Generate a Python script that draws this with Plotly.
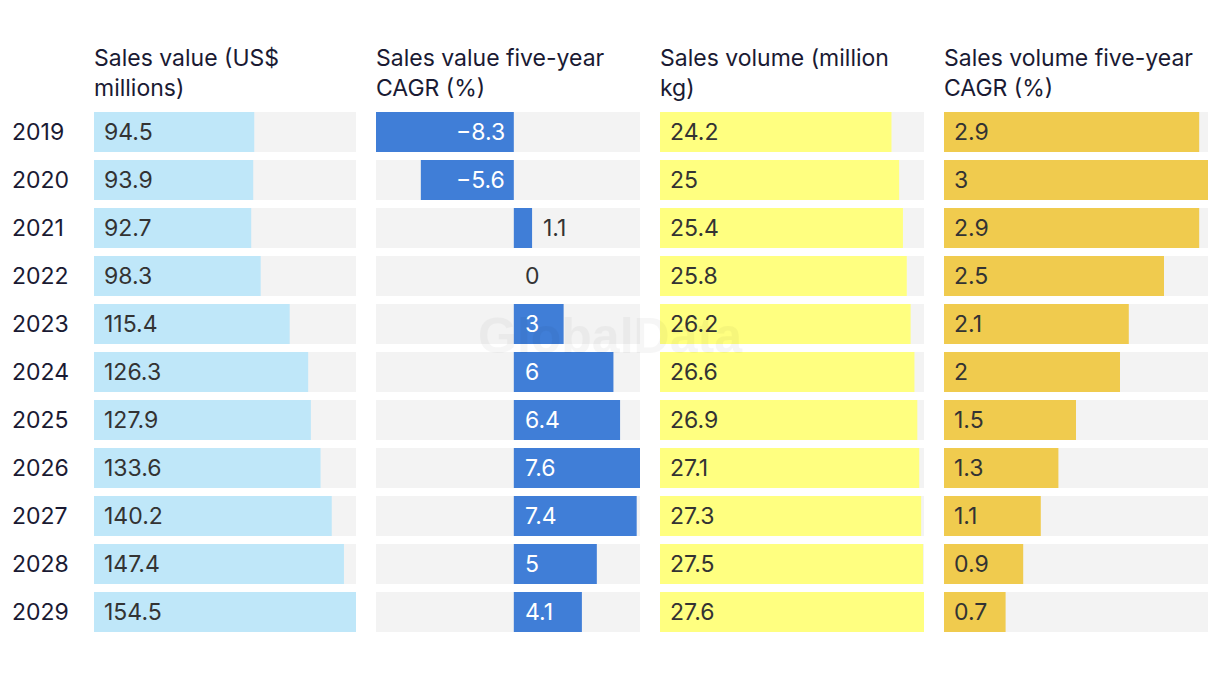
import plotly.graph_objects as go

years = ["2019", "2020", "2021", "2022", "2023", "2024", "2025", "2026", "2027", "2028", "2029"]
sales_value = [94.5, 93.9, 92.7, 98.3, 115.4, 126.3, 127.9, 133.6, 140.2, 147.4, 154.5]
sales_value_cagr = [-8.3, -5.6, 1.1, 0, 3, 6, 6.4, 7.6, 7.4, 5, 4.1]
sales_volume = [24.2, 25, 25.4, 25.8, 26.2, 26.6, 26.9, 27.1, 27.3, 27.5, 27.6]
sales_volume_cagr = [2.9, 3, 2.9, 2.5, 2.1, 2, 1.5, 1.3, 1.1, 0.9, 0.7]

headers = ["Sales value (US$<br>millions)", "Sales value five-year<br>CAGR (%)",
           "Sales volume (million<br>kg)", "Sales volume five-year<br>CAGR (%)"]
colors = ["#BFE7F9", "#407ED7", "#FFFF80", "#F0CB4E"]

W, H = 1220, 674
FONT = "Inter"
FS = 23
TXT = "#333333"
HEAD = "#1A1A33"
GREY = "#F3F3F3"

panels_px = [(94, 356), (376, 640), (660, 924), (944, 1208)]
series = [sales_value, sales_value_cagr, sales_volume, sales_volume_cagr]

def fmt(v):
    s = ("%g" % abs(v))
    return ("\u2212" + s) if v < 0 else s

fig = go.Figure()
annotations = []
layout_axes = {}

for i, (vals, col, (x0, x1)) in enumerate(zip(series, colors, panels_px)):
    lo = min(0, min(vals))
    hi = max(vals)
    xa = "x" if i == 0 else f"x{i+1}"
    key = "xaxis" if i == 0 else f"xaxis{i+1}"
    fig.add_trace(go.Bar(
        y=years, x=[hi - lo] * len(years), base=[lo] * len(years), orientation="h",
        marker=dict(color=GREY, line=dict(width=0)), xaxis=xa, yaxis="y",
        hoverinfo="skip", showlegend=False))
    fig.add_trace(go.Bar(
        y=years, x=vals, orientation="h",
        marker=dict(color=col, line=dict(width=0)), xaxis=xa, yaxis="y",
        showlegend=False))
    layout_axes[key] = dict(domain=[x0 / W, x1 / W], range=[lo, hi], anchor="y",
                            showgrid=False, zeroline=False, showticklabels=False,
                            ticks="", fixedrange=True)
    annotations.append(dict(xref="paper", yref="paper", x=x0 / W, y=1 - 42 / H,
                            xanchor="left", yanchor="top", align="left", xshift=-2,
                            text=headers[i], showarrow=False,
                            font=dict(family=FONT, size=FS, color=HEAD)))
    for k, v in enumerate(vals):
        if i == 1:
            if v < 0:
                a = dict(x=0, xanchor="right", xshift=-7, color="#FFFFFF")
            elif v >= 2:
                a = dict(x=0, xanchor="left", xshift=9, color="#FFFFFF")
            else:
                a = dict(x=v, xanchor="left", xshift=9, color=TXT)
        else:
            a = dict(x=0, xanchor="left", xshift=8, color=TXT)
        annotations.append(dict(xref=xa, yref="y", x=a["x"], y=k, xanchor=a["xanchor"],
                                xshift=a["xshift"], text=fmt(v), showarrow=False,
                                font=dict(family=FONT, size=FS, color=a["color"])))

for k, yv in enumerate(years):
    annotations.append(dict(xref="paper", yref="y", x=10 / W, y=k, xanchor="left",
                            text=yv, showarrow=False,
                            font=dict(family=FONT, size=FS, color=HEAD)))

annotations.append(dict(xref="paper", yref="paper", x=610 / W, y=1 - 336 / H,
                        xanchor="center", yanchor="middle", text="<b>GlobalData</b>",
                        showarrow=False, opacity=0.03,
                        font=dict(family="Liberation Sans", size=50, color="#000000")))

fig.update_layout(
    width=W, height=H, barmode="overlay", bargap=1 / 6,
    margin=dict(l=0, r=0, t=0, b=0),
    paper_bgcolor="#FFFFFF", plot_bgcolor="#FFFFFF",
    yaxis=dict(domain=[1 - 636 / H, 1 - 108 / H], type="category",
               categoryorder="array", categoryarray=years,
               range=[10.5, -0.5], showticklabels=False, showgrid=False,
               zeroline=False, ticks="", fixedrange=True),
    annotations=annotations,
    **layout_axes,
)

fig.write_html("out.html", config={"displayModeBar": False},
               post_script="document.body.style.margin='0';")
